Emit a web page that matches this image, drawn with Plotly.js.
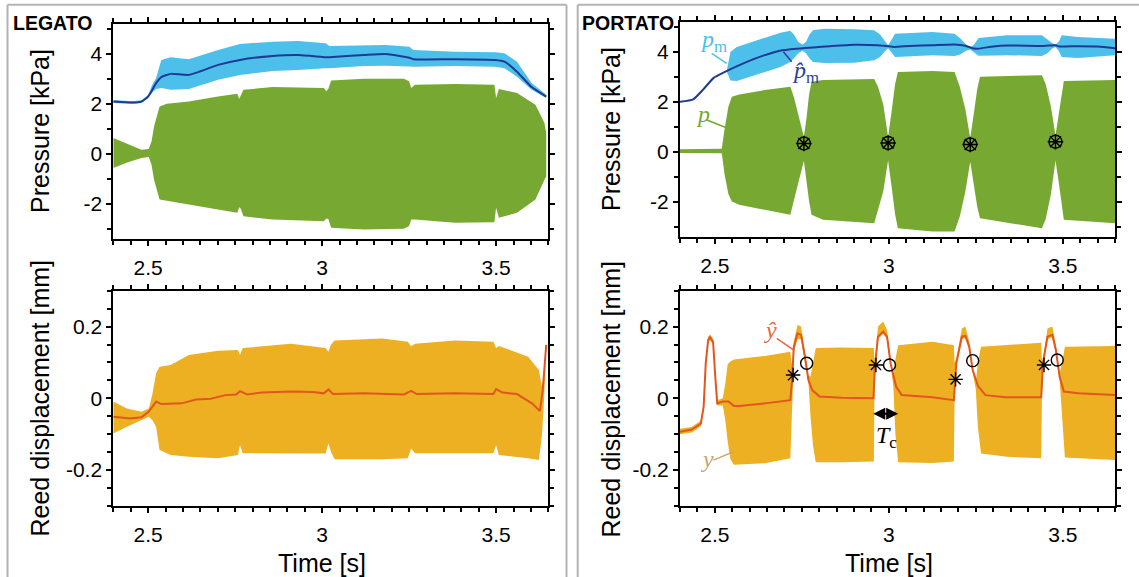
<!DOCTYPE html>
<html><head><meta charset="utf-8">
<script src="https://cdn.plot.ly/plotly-3.0.1.min.js"></script>
<style>html,body{margin:0;padding:0;background:#fff;} #chart{width:1139px;height:577px;}</style>
</head><body><div id="chart"></div>
<script>
// ---------- LEGATO : mouthpiece pressure p_m (band) and its mean p̂_m ----------
const legPmT     = [2.4, 2.455, 2.481, 2.5, 2.512, 2.523, 2.538, 2.565, 2.617, 2.701, 2.764, 2.858, 2.931, 3.01, 3.021, 3.12, 3.183, 3.251, 3.262, 3.382, 3.497, 3.524, 3.56, 3.602, 3.644];
const legPmUpper = [2.15, 2.1, 2.14, 2.35, 2.76, 3.03, 3.76, 3.87, 3.79, 4.16, 4.4, 4.49, 4.52, 4.43, 4.32, 4.33, 4.36, 4.29, 4.16, 4.09, 4.07, 4.03, 3.69, 2.83, 2.36];
const legPmHat   = [2.09, 2.05, 2.09, 2.29, 2.56, 2.83, 3.07, 3.2, 3.16, 3.56, 3.76, 3.92, 3.96, 3.87, 3.87, 3.96, 4.0, 3.85, 3.79, 3.79, 3.76, 3.69, 3.29, 2.67, 2.29];
const legPmLower = [2.03, 2.0, 2.04, 2.24, 2.45, 2.59, 2.63, 2.56, 2.59, 2.96, 3.16, 3.32, 3.36, 3.43, 3.43, 3.52, 3.53, 3.5, 3.49, 3.52, 3.49, 3.43, 3.09, 2.56, 2.23];
// LEGATO : mouthpiece acoustic pressure p (envelope)
const legPT     = [2.4, 2.44, 2.481, 2.502, 2.51, 2.517, 2.533, 2.554, 2.617, 2.701, 2.756, 2.762, 2.766, 2.774, 2.858, 3.005, 3.012, 3.018, 3.026, 3.12, 3.235, 3.25, 3.256, 3.267, 3.382, 3.495, 3.5, 3.508, 3.56, 3.613, 3.639, 3.644];
const legPUpper = [0.63, 0.4, 0.16, 0.19, 0.5, 1.09, 1.89, 2.0, 2.09, 2.29, 2.4, 2.2, 2.3, 2.56, 2.67, 2.63, 2.5, 2.6, 2.93, 3.0, 3.0, 2.9, 2.63, 2.76, 2.79, 2.76, 2.23, 2.59, 2.43, 1.96, 1.23, 0.83];
const legPLower = [-0.57, -0.35, -0.17, -0.13, -0.45, -1.04, -1.84, -1.91, -2.04, -2.24, -2.37, -2.15, -2.2, -2.51, -2.64, -2.71, -2.6, -2.62, -2.97, -3.04, -3.01, -2.9, -2.64, -2.64, -2.77, -2.75, -2.17, -2.57, -2.37, -1.84, -1.04, -0.91];
// LEGATO : reed displacement y (envelope) and ŷ
const legYT     = [2.4, 2.439, 2.481, 2.502, 2.512, 2.523, 2.533, 2.565, 2.617, 2.701, 2.758, 2.764, 2.772, 2.91, 3.01, 3.018, 3.026, 3.036, 3.173, 3.246, 3.256, 3.267, 3.382, 3.492, 3.5, 3.508, 3.592, 3.623, 3.632, 3.638, 3.644];
const legYUpper = [-0.009, -0.028, -0.037, -0.028, 0.01, 0.07, 0.088, 0.093, 0.121, 0.133, 0.135, 0.121, 0.14, 0.152, 0.14, 0.13, 0.15, 0.161, 0.167, 0.158, 0.145, 0.152, 0.161, 0.158, 0.14, 0.146, 0.116, 0.079, 0.03, 0.08, 0.155];
const legYLower = [-0.098, -0.079, -0.06, -0.051, -0.06, -0.079, -0.144, -0.158, -0.163, -0.167, -0.158, -0.13, -0.153, -0.153, -0.154, -0.126, -0.15, -0.17, -0.17, -0.167, -0.14, -0.153, -0.153, -0.153, -0.13, -0.158, -0.167, -0.172, -0.1, 0.0, 0.14];
const legYHatT  = [2.4, 2.449, 2.481, 2.502, 2.523, 2.538, 2.596, 2.638, 2.68, 2.722, 2.753, 2.764, 2.785, 2.827, 2.91, 2.973, 3.005, 3.018, 3.031, 3.12, 3.235, 3.256, 3.272, 3.382, 3.492, 3.5, 3.518, 3.56, 3.603, 3.626, 3.634, 3.644];
const legYHat   = [-0.051, -0.056, -0.053, -0.037, -0.009, -0.016, -0.014, -0.003, -0.001, 0.009, 0.011, 0.02, 0.011, 0.016, 0.019, 0.018, 0.014, 0.025, 0.012, 0.014, 0.011, 0.021, 0.012, 0.014, 0.012, 0.026, 0.016, 0.012, -0.014, -0.035, 0.023, 0.149];

// ---------- PORTATO ----------
const porPmT     = [2.535, 2.545, 2.563, 2.626, 2.689, 2.717, 2.727, 2.74, 2.752, 2.762, 2.772, 2.782, 2.815, 2.9, 2.958, 2.975, 2.99, 2.998, 3.006, 3.018, 3.125, 3.189, 3.205, 3.222, 3.234, 3.245, 3.258, 3.34, 3.44, 3.456, 3.47, 3.479, 3.488, 3.497, 3.543, 3.65];
const porPmUpper = [3.3, 4.0, 4.2, 4.47, 4.77, 4.85, 4.7, 4.4, 4.3, 4.4, 4.7, 4.87, 4.93, 4.91, 4.87, 4.7, 4.4, 4.27, 4.45, 4.73, 4.8, 4.73, 4.55, 4.3, 4.18, 4.3, 4.56, 4.67, 4.67, 4.5, 4.35, 4.3, 4.4, 4.67, 4.6, 4.53];
const porPmLower = [3.2, 2.85, 2.83, 3.13, 3.4, 3.6, 3.75, 3.95, 4.05, 3.95, 3.75, 3.6, 3.56, 3.57, 3.67, 3.8, 4.05, 4.15, 4.0, 3.8, 3.87, 3.84, 3.9, 4.05, 4.1, 4.0, 3.85, 3.87, 3.84, 3.95, 4.15, 4.2, 4.05, 3.8, 3.76, 3.87];
const porPmHatT  = [2.4, 2.438, 2.467, 2.496, 2.515, 2.544, 2.592, 2.639, 2.687, 2.735, 2.783, 2.831, 2.9, 2.968, 3.0, 3.015, 3.06, 3.125, 3.188, 3.22, 3.24, 3.256, 3.3, 3.34, 3.445, 3.479, 3.49, 3.543, 3.6, 3.65];
const porPmHat   = [2.0, 2.1, 2.5, 2.95, 3.1, 3.3, 3.6, 3.85, 4.05, 4.13, 4.18, 4.23, 4.29, 4.27, 4.23, 4.2, 4.24, 4.27, 4.3, 4.25, 4.15, 4.13, 4.22, 4.26, 4.24, 4.27, 4.22, 4.23, 4.22, 4.15];
const porPT     = [2.4, 2.52, 2.528, 2.539, 2.549, 2.57, 2.644, 2.717, 2.727, 2.738, 2.748, 2.756, 2.764, 2.771, 2.778, 2.811, 2.958, 2.969, 2.984, 2.998, 3.008, 3.018, 3.026, 3.126, 3.189, 3.204, 3.22, 3.234, 3.244, 3.254, 3.262, 3.44, 3.451, 3.466, 3.479, 3.489, 3.497, 3.503, 3.65];
const porPUpper = [0.1, 0.12, 0.9, 1.8, 2.2, 2.29, 2.47, 2.6, 2.2, 1.6, 1.0, 0.6, 1.4, 2.3, 2.8, 2.87, 2.91, 2.6, 1.9, 0.6, 1.6, 2.7, 3.2, 3.24, 3.2, 2.6, 1.7, 0.55, 1.5, 2.5, 3.0, 3.07, 2.7, 1.8, 0.65, 1.5, 2.3, 2.83, 2.87];
const porPLower = [-0.05, -0.06, -0.9, -1.7, -2.0, -2.13, -2.33, -2.53, -2.0, -1.4, -0.8, -0.37, -1.2, -2.0, -2.53, -2.73, -2.87, -2.4, -1.6, -0.35, -1.4, -2.5, -3.07, -3.2, -3.2, -2.6, -1.6, -0.4, -1.3, -2.2, -2.67, -3.07, -2.7, -1.7, -0.35, -1.3, -2.2, -2.73, -2.87];
// attack instants (⊛) on p
const porAttackT = [2.756, 2.998, 3.234, 3.479];
const porAttackP = [0.33, 0.35, 0.29, 0.4];
// reed displacement
const porYT     = [2.4, 2.434, 2.46, 2.468, 2.474, 2.481, 2.486, 2.495, 2.502, 2.507, 2.523, 2.53, 2.537, 2.545, 2.555, 2.57, 2.644, 2.717, 2.7205, 2.724, 2.727, 2.738, 2.748, 2.759, 2.769, 2.775, 2.782, 2.79, 2.864, 2.957, 2.959, 2.969, 2.984, 2.995, 3.005, 3.013, 3.019, 3.027, 3.126, 3.187, 3.189, 3.194, 3.21, 3.22, 3.231, 3.241, 3.25, 3.256, 3.265, 3.34, 3.438, 3.44, 3.443, 3.456, 3.47, 3.48, 3.491, 3.498, 3.506, 3.65];
const porYUpper = [-0.085, -0.08, -0.062, -0.015, 0.105, 0.172, 0.178, 0.166, 0.06, -0.005, 0.0, 0.04, 0.095, 0.103, 0.108, 0.11, 0.118, 0.13, 0.1, 0.09, 0.16, 0.205, 0.2, 0.13, 0.065, 0.06, 0.1, 0.14, 0.142, 0.14, 0.1, 0.2, 0.214, 0.19, 0.11, 0.055, 0.11, 0.148, 0.158, 0.148, 0.1, 0.11, 0.195, 0.2, 0.16, 0.09, 0.045, 0.1, 0.144, 0.148, 0.155, 0.1, 0.11, 0.195, 0.2, 0.15, 0.07, 0.1, 0.144, 0.146];
const porYLower = [-0.1, -0.095, -0.078, -0.03, 0.09, 0.155, 0.162, 0.15, 0.04, -0.02, -0.02, -0.06, -0.12, -0.17, -0.185, -0.186, -0.181, -0.167, -0.06, 0.02, 0.13, 0.165, 0.165, 0.105, 0.045, -0.05, -0.13, -0.178, -0.178, -0.176, 0.04, 0.165, 0.18, 0.165, 0.09, 0.035, -0.1, -0.178, -0.18, -0.176, 0.0, 0.09, 0.165, 0.168, 0.138, 0.072, 0.025, -0.08, -0.154, -0.163, -0.167, 0.0, 0.09, 0.165, 0.17, 0.128, 0.05, -0.05, -0.165, -0.172];
const porYHatT  = [2.4, 2.434, 2.46, 2.468, 2.474, 2.481, 2.486, 2.495, 2.502, 2.507, 2.523, 2.539, 2.555, 2.57, 2.644, 2.717, 2.722, 2.727, 2.738, 2.748, 2.759, 2.769, 2.78, 2.801, 2.864, 2.956, 2.96, 2.969, 2.984, 2.995, 3.005, 3.021, 3.037, 3.126, 3.187, 3.194, 3.21, 3.22, 3.231, 3.241, 3.257, 3.278, 3.335, 3.438, 3.443, 3.456, 3.47, 3.48, 3.491, 3.503, 3.545, 3.65];
const porYHat   = [-0.093, -0.087, -0.07, -0.023, 0.098, 0.163, 0.17, 0.158, 0.051, -0.014, -0.009, -0.009, -0.021, -0.021, -0.014, -0.005, 0.051, 0.144, 0.181, 0.177, 0.116, 0.051, 0.023, 0.005, 0.002, 0.0, 0.088, 0.172, 0.186, 0.172, 0.098, 0.033, 0.009, 0.003, -0.005, 0.098, 0.172, 0.174, 0.144, 0.079, 0.033, 0.009, 0.003, 0.003, 0.098, 0.172, 0.177, 0.135, 0.06, 0.019, 0.014, 0.009];
// start (*) and end (o) of the transients on ŷ
const porStarT = [2.725, 2.963, 3.192, 3.446];
const porStarY = [0.065, 0.093, 0.053, 0.093];
const porCircT = [2.764, 3.002, 3.241, 3.484];
const porCircY = [0.098, 0.093, 0.105, 0.107];
// Tc arrow limits
const tcStart = 2.951, tcEnd = 3.027, tcLevel = -0.043;

// tick labels
const xTickVals = [2.5, 3, 3.5], xTickText = ['2.5', '3', '3.5'];
const pTickVals = [-2, 0, 2, 4], pTickText = ['-2', '0', '2', '4'];
const yTickVals = [-0.2, 0, 0.2], yTickText = ['-0.2', '0', '0.2'];

// ---------- styling ----------
const C = {
  pm: '#4dbfeb', pmHat: '#1f3a94', p: '#77a932', y: '#ecb022', yHat: '#e2561f',
  pmLbl: '#4dbfeb', pmHatLbl: '#2c3f9c', pLbl: '#77a932', yHatLbl: '#e8673b', yLbl: '#c9a46b'
};
const W = 1139, H = 577;
const SANS = 'Liberation Sans, Arial, Helvetica, sans-serif';
const SERIF = 'Liberation Serif, Times New Roman, serif';
const NARROW = 'Liberation Sans Narrow, Arial Narrow, Liberation Sans, sans-serif';

function band(t, up, lo, xa, ya, color) {
  return {x: t.concat(t.slice().reverse()), y: up.concat(lo.slice().reverse()),
    xaxis: xa, yaxis: ya, type: 'scatter', mode: 'lines', fill: 'toself',
    fillcolor: color, line: {width: 0, color: color}, hoverinfo: 'skip', showlegend: false};
}
function line(t, v, xa, ya, color, w, spline) {
  return {x: t, y: v, xaxis: xa, yaxis: ya, type: 'scatter', mode: 'lines',
    line: {color: color, width: w, shape: spline ? 'spline' : 'linear', smoothing: 0.5}, hoverinfo: 'skip', showlegend: false};
}
function marks(t, v, xa, ya, symbol, size) {
  return {x: t, y: v, xaxis: xa, yaxis: ya, type: 'scatter', mode: 'markers',
    marker: {symbol: symbol, size: size, color: 'black', line: {color: 'black', width: 1.4}},
    hoverinfo: 'skip', showlegend: false, cliponaxis: false};
}

const traces = [
  band(legPmT, legPmUpper, legPmLower, 'x', 'y', C.pm),
  band(legPT, legPUpper, legPLower, 'x', 'y', C.p),
  line(legPmT, legPmHat, 'x', 'y', C.pmHat, 2, true),

  band(porPmT, porPmUpper, porPmLower, 'x2', 'y2', C.pm),
  band(porPT, porPUpper, porPLower, 'x2', 'y2', C.p),
  line(porPmHatT, porPmHat, 'x2', 'y2', C.pmHat, 2, true),
  marks(porAttackT, porAttackP, 'x2', 'y2', 'circle-open', 13),
  marks(porAttackT, porAttackP, 'x2', 'y2', 'asterisk-open', 13),

  band(legYT, legYUpper, legYLower, 'x3', 'y3', C.y),
  line(legYHatT, legYHat, 'x3', 'y3', C.yHat, 2, false),

  band(porYT, porYUpper, porYLower, 'x4', 'y4', C.y),
  line(porYHatT, porYHat, 'x4', 'y4', C.yHat, 2, false),
  marks(porStarT, porStarY, 'x4', 'y4', 'asterisk-open', 12),
  marks(porCircT, porCircY, 'x4', 'y4', 'circle-open', 12)
];

function xAxis(domain, anchor) {
  return {domain: domain, anchor: anchor, range: [2.4, 3.65], tickmode: 'array', tickvals: xTickVals, ticktext: xTickText,
    ticks: 'outside', ticklen: 5, tickwidth: 2, tickcolor: '#000', showline: true, linewidth: 2, linecolor: '#000',
    mirror: 'allticks', showgrid: false, zeroline: false, fixedrange: true, ticklabelstandoff: 4,
    tickfont: {family: SANS, size: 21, color: '#000'},
    minor: {tickmode: 'linear', tick0: 2.4, dtick: 0.05, ticks: 'outside', ticklen: 4, tickwidth: 2, tickcolor: '#000', showgrid: false}};
}
function yAxis(domain, anchor, range, vals, text, minor) {
  return {domain: domain, anchor: anchor, range: range, tickmode: 'array', tickvals: vals, ticktext: text,
    ticks: 'outside', ticklen: 5, tickwidth: 2, tickcolor: '#000', showline: true, linewidth: 2, linecolor: '#000',
    mirror: 'allticks', showgrid: false, zeroline: false, fixedrange: true,
    tickfont: {family: SANS, size: 21, color: '#000'},
    minor: {tickmode: 'linear', tick0: 0, dtick: minor, ticks: 'outside', ticklen: 4, tickwidth: 2, tickcolor: '#000', showgrid: false}};
}
const px = v => v / W, py = v => 1 - v / H;
const xL = [px(113.3), px(548.3)], xR = [px(680), px(1115)];
const yTL = [py(238.5), py(24)], yTR = [py(236.5), py(22)], yB = [py(506), py(290.7)];

function ann(text, x, y, xref, yref, size, color, family, extra) {
  return Object.assign({text: text, x: x, y: y, xref: xref, yref: yref, showarrow: false,
    font: {family: family, size: size, color: color}, xanchor: 'center', yanchor: 'middle'}, extra || {});
}
function lead(x0, y0, x1, y1, xref, yref, color) {
  return {type: 'line', x0: x0, y0: y0, x1: x1, y1: y1, xref: xref, yref: yref, line: {color: color, width: 1.5}};
}
const gray = {color: '#b3b3b3', width: 2};
const layout = {
  width: W, height: H, margin: {l: 0, r: 0, t: 0, b: 0}, paper_bgcolor: '#fff', plot_bgcolor: 'rgba(0,0,0,0)',
  showlegend: false,
  xaxis: xAxis(xL, 'y'), yaxis: yAxis(yTL, 'x', [-3.4, 5.2], pTickVals, pTickText, 1),
  xaxis2: xAxis(xR, 'y2'), yaxis2: yAxis(yTR, 'x2', [-3.4, 5.2], pTickVals, pTickText, 1),
  xaxis3: xAxis(xL, 'y3'), yaxis3: yAxis(yB, 'x3', [-0.3, 0.3], yTickVals, yTickText, 0.05),
  xaxis4: xAxis(xR, 'y4'), yaxis4: yAxis(yB, 'x4', [-0.3, 0.3], yTickVals, yTickText, 0.05),
  shapes: [
    {type: 'line', xref: 'paper', yref: 'paper', x0: px(7.5), x1: px(7.5), y0: 0, y1: py(4.7), line: gray},
    {type: 'line', xref: 'paper', yref: 'paper', x0: px(7.5), x1: px(566.5), y0: py(4.7), y1: py(4.7), line: gray},
    {type: 'line', xref: 'paper', yref: 'paper', x0: px(566.5), x1: px(566.5), y0: 0, y1: py(4.7), line: gray},
    {type: 'line', xref: 'paper', yref: 'paper', x0: px(577.7), x1: px(577.7), y0: 0, y1: py(4.7), line: gray},
    {type: 'line', xref: 'paper', yref: 'paper', x0: px(577.7), x1: 1, y0: py(4.7), y1: py(4.7), line: gray},
    lead(2.491, 3.94, 2.534, 3.54, 'x2', 'y2', C.pmLbl),
    lead(2.697, 4.01, 2.721, 3.61, 'x2', 'y2', C.pmHatLbl),
    lead(2.477, 1.27, 2.53, 0.98, 'x2', 'y2', C.pLbl),
    lead(2.678, 0.167, 2.726, 0.135, 'x4', 'y4', C.yHatLbl),
    lead(2.496, -0.172, 2.553, -0.149, 'x4', 'y4', C.yLbl)
  ],
  annotations: [
    ann('<b>LEGATO</b>', px(53), py(22.5), 'paper', 'paper', 19.5, '#000', NARROW),
    ann('<b>PORTATO</b>', px(627.5), py(22.5), 'paper', 'paper', 19.5, '#000', NARROW),
    ann('Pressure [kPa]', px(40), py(131), 'paper', 'paper', 25, '#000', SANS, {textangle: -90}),
    ann('Reed displacement [mm]', px(40), py(398.5), 'paper', 'paper', 25, '#000', SANS, {textangle: -90}),
    ann('Pressure [kPa]', px(611), py(129), 'paper', 'paper', 25, '#000', SANS, {textangle: -90}),
    ann('Reed displacement [mm]', px(611), py(398.5), 'paper', 'paper', 25, '#000', SANS, {textangle: -90}),
    ann('Time [s]', 3, py(563), 'x3', 'paper', 25, '#000', SANS),
    ann('Time [s]', 3, py(563), 'x4', 'paper', 25, '#000', SANS),
    ann('<i>p</i><sub>m</sub>', 2.496, 4.45, 'x2', 'y2', 24, C.pmLbl, SERIF),
    ann('<i>p\u0302</i><sub>m</sub>', 2.762, 3.2, 'x2', 'y2', 24, C.pmHatLbl, SERIF),
    ann('<i>p</i>', 2.466, 1.5, 'x2', 'y2', 24, C.pLbl, SERIF),
    ann('<i>\u0177</i>', 2.661, 0.19, 'x4', 'y4', 24, C.yHatLbl, SERIF),
    ann('<i>y</i>', 2.479, -0.168, 'x4', 'y4', 24, C.yLbl, SERIF),
    ann('<i>T</i><sub>c</sub>', 2.992, -0.108, 'x4', 'y4', 24, '#000', SERIF),
    {x: tcEnd, y: tcLevel, ax: tcStart, ay: tcLevel, xref: 'x4', yref: 'y4', axref: 'x4', ayref: 'y4',
     text: '', showarrow: true, arrowside: 'end+start', arrowhead: 2, arrowsize: 1.2, arrowwidth: 2, arrowcolor: '#000'}
  ]
};
Plotly.newPlot('chart', traces, layout, {staticPlot: true, displayModeBar: false});
</script>
</body></html>
